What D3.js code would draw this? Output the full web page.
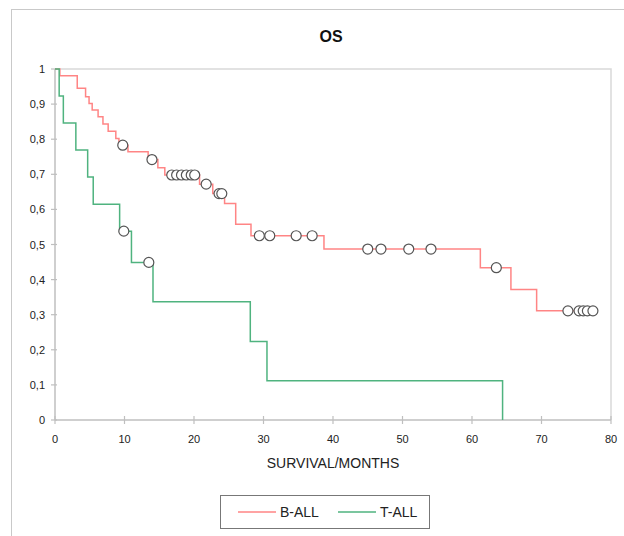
<!DOCTYPE html>
<html>
<head>
<meta charset="utf-8">
<script src="https://cdn.jsdelivr.net/npm/d3@7"></script>
<style>
  html, body { margin: 0; padding: 0; background: #fff; }
  svg { display: block; font-family: "Liberation Sans", Arial, sans-serif; }
</style>
</head>
<body>
<svg id="chart" width="624" height="536"></svg>
<script>
// B-ALL: step times / survival after each step
const bTimes = [0, 0.7, 3.2, 4.4, 4.9, 5.35, 6.2, 6.9, 7.65, 8.75, 9.2, 10.5, 13.4, 14.8, 15.8, 20.8, 22.7, 24.4, 26.0, 28.2, 38.7, 61.2, 65.6, 69.3];
const bSurv  = [1, 0.981, 0.945, 0.921, 0.902, 0.883, 0.864, 0.843, 0.823, 0.802, 0.783, 0.764, 0.742, 0.719, 0.698, 0.672, 0.645, 0.617, 0.558, 0.525, 0.487, 0.434, 0.372, 0.311];
const bEnd = 77.4;
const bCens = [9.75, 13.95, 16.8, 17.5, 18.2, 18.9, 19.6, 20.1, 21.75, 23.6, 24.0, 29.4, 30.9, 34.7, 37.0, 45.0, 46.9, 50.9, 54.1, 63.5, 73.8, 75.4, 76.0, 76.6, 77.4];

// T-ALL
const tTimes = [0, 0.6, 1.2, 3.0, 4.7, 5.5, 9.3, 11.0, 14.1, 28.1, 30.5, 64.4];
const tSurv  = [1, 0.923, 0.846, 0.769, 0.692, 0.615, 0.538, 0.449, 0.337, 0.224, 0.112, 0];
const tEnd = 64.4;
const tCens = [9.9, 13.5];

const xTicks = [0, 10, 20, 30, 40, 50, 60, 70, 80];
const yTicks = [0, 0.1, 0.2, 0.3, 0.4, 0.5, 0.6, 0.7, 0.8, 0.9, 1];

const series = [
  { name: "B-ALL", color: "#ff8585", times: bTimes, surv: bSurv, end: bEnd, cens: bCens },
  { name: "T-ALL", color: "#4fb37f", times: tTimes, surv: tSurv, end: tEnd, cens: tCens }
];

const svg = d3.select("#chart");

// outer frame
svg.append("rect")
  .attr("x", 11.5).attr("y", 9.5)
  .attr("width", 640).attr("height", 560)
  .attr("fill", "none").attr("stroke", "#c9c9c9").attr("stroke-width", 1);

const x = d3.scaleLinear().domain([0, 80]).range([55, 611]);
const y = d3.scaleLinear().domain([0, 1]).range([420, 69]);

// title
svg.append("text")
  .attr("x", 331).attr("y", 42)
  .attr("text-anchor", "middle")
  .style("font-size", "16px").style("font-weight", "bold").attr("fill", "#111")
  .text("OS");

// plot area top / right border
svg.append("path")
  .attr("d", `M${x(0)},${y(1)}H${x(80)}V${y(0)}`)
  .attr("fill", "none").attr("stroke", "#d9d9d9").attr("stroke-width", 1.5);

// x axis
const gx = svg.append("g").attr("transform", `translate(0,${y(0)})`);
gx.append("line").attr("x1", x(0)).attr("x2", x(80))
  .attr("stroke", "#bfbfbf").attr("stroke-width", 1.5);
gx.selectAll("line.tick").data(xTicks).enter().append("line")
  .attr("class", "tick")
  .attr("x1", d => x(d)).attr("x2", d => x(d))
  .attr("y1", -4).attr("y2", 4)
  .attr("stroke", "#bfbfbf").attr("stroke-width", 1.2);
gx.selectAll("text").data(xTicks).enter().append("text")
  .attr("x", d => x(d)).attr("y", 23)
  .attr("text-anchor", "middle")
  .style("font-size", "11px").attr("fill", "#222")
  .text(d => d);

svg.append("text")
  .attr("x", 333).attr("y", 468)
  .attr("text-anchor", "middle")
  .style("font-size", "14px").attr("fill", "#222")
  .text("SURVIVAL/MONTHS");

// y axis
const gy = svg.append("g").attr("transform", `translate(${x(0)},0)`);
gy.append("line").attr("y1", y(0)).attr("y2", y(1))
  .attr("stroke", "#bfbfbf").attr("stroke-width", 1.5);
gy.selectAll("line.tick").data(yTicks).enter().append("line")
  .attr("class", "tick")
  .attr("y1", d => y(d)).attr("y2", d => y(d))
  .attr("x1", -4).attr("x2", 2)
  .attr("stroke", "#bfbfbf").attr("stroke-width", 1.2);
const yFmt = d => (d === 0 || d === 1) ? String(d) : d.toFixed(1).replace(".", ",");
gy.selectAll("text").data(yTicks).enter().append("text")
  .attr("x", -10).attr("y", d => y(d) + 4)
  .attr("text-anchor", "end")
  .style("font-size", "11px").attr("fill", "#222")
  .text(yFmt);

// survival value at time t
function survAt(s, t) {
  let v = 1;
  s.times.forEach((tt, i) => { if (tt <= t) v = s.surv[i]; });
  return v;
}

const line = d3.line()
  .x(d => x(d[0])).y(d => y(d[1]))
  .curve(d3.curveStepAfter);

series.forEach(s => {
  const pts = s.times.map((t, i) => [t, s.surv[i]]);
  pts.push([s.end, s.surv[s.surv.length - 1]]);
  svg.append("path")
    .attr("d", line(pts))
    .attr("fill", "none")
    .attr("stroke", s.color)
    .attr("stroke-width", 1.5);
});

series.forEach(s => {
  svg.selectAll(null).data(s.cens).enter().append("circle")
    .attr("cx", d => x(d))
    .attr("cy", d => y(survAt(s, d)))
    .attr("r", 5)
    .attr("fill", "#fff")
    .attr("stroke", "#555")
    .attr("stroke-width", 1.2);
});

// legend
const lg = svg.append("g");
lg.append("rect")
  .attr("x", 220.5).attr("y", 495.5).attr("width", 209).attr("height", 33)
  .attr("fill", "#fff").attr("stroke", "#777").attr("stroke-width", 1);
const legX = [238, 338];
series.forEach((s, i) => {
  lg.append("line")
    .attr("x1", legX[i]).attr("x2", legX[i] + 38)
    .attr("y1", 512).attr("y2", 512)
    .attr("stroke", s.color).attr("stroke-width", 1.5);
  lg.append("text")
    .attr("x", legX[i] + 42).attr("y", 517)
    .style("font-size", "14px").attr("fill", "#222")
    .text(s.name);
});
</script>
</body>
</html>
